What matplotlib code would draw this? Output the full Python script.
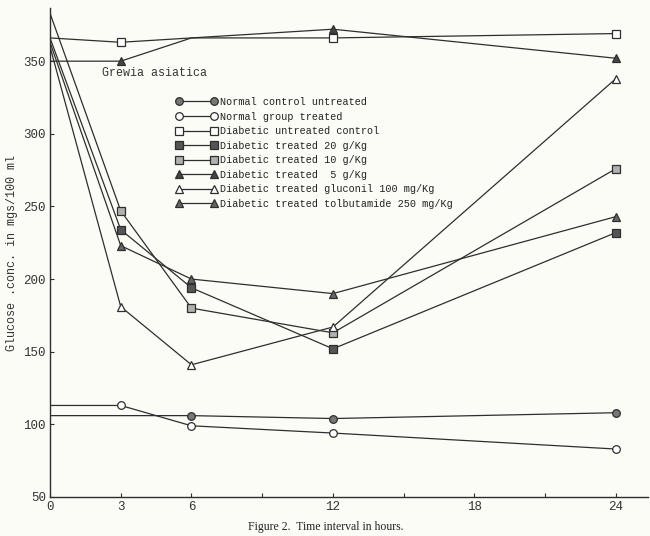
import matplotlib
matplotlib.use("Agg")
from matplotlib import pyplot as plt

# time points (hours) and glucose values (mg/100 ml)
hours = [0, 3, 6, 12, 24]

normal_ctrl_x = [0, 6, 12, 24]
normal_ctrl = [106, 106, 104, 108]
normal_treated = [113, 113, 99, 94, 83]
diab_untreated = [366, 363, 366, 366, 369]
diab_20 = [366, 234, 194, 152, 232]
diab_10 = [383, 247, 180, 163, 276]
diab_5 = [350, 350, 366, 372, 352]
diab_gluconil = [360, 181, 141, 167, 338]
diab_tolbut = [363, 223, 200, 190, 243]

labels = ["Normal control untreated",
          "Normal group treated",
          "Diabetic untreated control",
          "Diabetic treated 20 g/Kg",
          "Diabetic treated 10 g/Kg",
          "Diabetic treated  5 g/Kg",
          "Diabetic treated gluconil 100 mg/Kg",
          "Diabetic treated tolbutamide 250 mg/Kg"]

mono = "Liberation Mono"
ink = "#2e2e2e"
paper = "#fcfcf6"

fig = plt.figure(figsize=(6.5, 5.36), dpi=100, facecolor=paper)
ax = fig.add_axes([0.0769, 0.0728, 0.92, 0.912], facecolor=paper)

# (x, y, marker, face, markevery)
series = [
    (normal_ctrl_x, normal_ctrl, "o", "#777777", [1, 2, 3]),
    (hours, normal_treated, "o", "white", [1, 2, 3, 4]),
    (hours, diab_untreated, "s", "white", [1, 3, 4]),
    (hours, diab_20, "s", "#555555", [1, 2, 3, 4]),
    (hours, diab_10, "s", "#b0b0b0", [1, 2, 3, 4]),
    (hours, diab_5, "^", "#444444", [1, 3, 4]),
    (hours, diab_gluconil, "^", "white", [1, 2, 3, 4]),
    (hours, diab_tolbut, "^", "#666666", [1, 2, 3, 4]),
]

for (xs, ys, mk, fc, every), lab in zip(series, labels):
    ax.plot(xs, ys, color=ink, lw=0.9, marker=mk, markersize=5.5,
            markerfacecolor=fc, markeredgecolor=ink, markeredgewidth=0.9,
            markevery=every, label=lab)

ax.set_xlim(0, 25.36)
ax.set_ylim(50, 386.5)

ax.set_yticks([50, 100, 150, 200, 250, 300, 350])
ax.set_xticks([0, 3, 6, 9, 12, 15, 18, 21, 24])
ax.set_xticklabels(["0", "3", "6", "", "12", "", "18", "", "24"])

for s in ["top", "right"]:
    ax.spines[s].set_visible(False)
for s in ["left", "bottom"]:
    ax.spines[s].set_color(ink)
    ax.spines[s].set_linewidth(1.0)

ax.tick_params(direction="in", length=3, width=0.8, colors=ink, pad=3)
for t in ax.get_yticklabels():
    t.set_fontfamily(mono)
    t.set_fontsize(9)
    t.set_color("#333333")
for t in ax.get_xticklabels():
    t.set_fontfamily(mono)
    t.set_fontsize(9)
    t.set_color("#333333")
# the "0" sits a little right of the axis corner in the scan
ax.get_xticklabels()[0].set_x(0.5)

ax.set_ylabel("Glucose .conc. in mgs/100 ml", fontfamily=mono,
              fontsize=8.5, color="#333333", labelpad=4)

ax.text(2.2, 342, "Grewia asiatica", fontfamily=mono, fontsize=8.4,
        color="#333333", va="center")

leg = ax.legend(loc="upper left", bbox_to_anchor=(176 / 650, 1 - 97 / 536),
                bbox_transform=fig.transFigure, frameon=False, numpoints=2,
                handlelength=4.0, handletextpad=0.3, labelspacing=0.45,
                borderpad=0, borderaxespad=0,
                prop={"family": mono, "size": 7.3})
for t in leg.get_texts():
    t.set_color("#222222")

fig.text(326 / 650, 1 - 527 / 536, "Figure 2.  Time interval in hours.",
         fontfamily="Liberation Serif", fontsize=8.5, color="#222222",
         ha="center", va="center")

fig.savefig("out.png", dpi=100, facecolor=paper)
